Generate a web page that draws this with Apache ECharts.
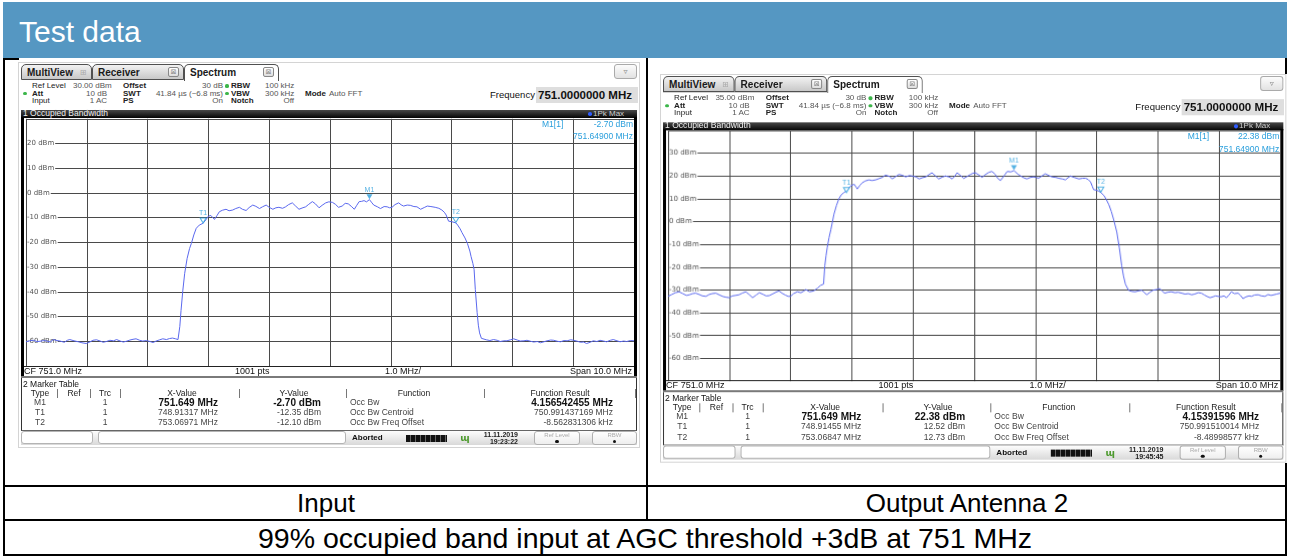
<!DOCTYPE html>
<html><head><meta charset="utf-8">
<script src="https://cdn.jsdelivr.net/npm/echarts@6/dist/echarts.min.js"></script>
<style>
html,body{margin:0;padding:0;}
body{width:1289px;height:556px;background:#fff;position:relative;overflow:hidden;font-family:"Liberation Sans",Arial,sans-serif;}
</style></head>
<body>
<script>
// ---------------- DATA ----------------
const pageTitle = 'Test data';
const cellLabels = ['Input', 'Output Antenna 2'];
const caption = '99% occupied band input at AGC threshold +3dB at 751 MHz';

const spanMHz = [746, 756];          // CF 751.0 MHz, span 10 MHz
const inputLevelRange = [-70, 30];   // ref level 30 dBm, 10 dB/div
const outputLevelRange = [-65, 35];  // ref level 35 dBm, 10 dB/div

const inputTrace = [
[746.00,-60.2],[746.06,-59.8],[746.12,-59.6],[746.18,-60.1],[746.23,-60.0],[746.29,-59.7],[746.34,-59.9],[746.40,-60.3],[746.45,-59.3],[746.51,-59.7],
[746.56,-59.9],[746.63,-60.4],[746.68,-59.6],[746.72,-59.3],[746.79,-59.8],[746.86,-60.2],[746.92,-60.6],[746.99,-60.9],[747.05,-60.3],[747.10,-59.6],
[747.16,-59.4],[747.22,-59.9],[747.27,-60.4],[747.32,-60.1],[747.38,-59.6],[747.44,-59.8],[747.49,-59.3],[747.55,-59.9],[747.60,-60.3],[747.65,-60.0],
[747.71,-59.5],[747.76,-59.2],[747.81,-59.0],[747.87,-59.6],[747.92,-59.9],[747.98,-59.7],[748.04,-60.1],[748.09,-60.5],[748.14,-59.9],[748.20,-59.4],
[748.25,-59.0],[748.31,-59.3],[748.36,-58.9],[748.41,-58.7],[748.46,-59.0],[748.50,-59.3],
[748.53,-54.0],[748.55,-47.5],[748.58,-39.3],[748.61,-32.5],[748.65,-26.5],[748.69,-22.5],[748.72,-20.4],[748.76,-17.0],[748.80,-14.3],[748.85,-13.0],
[748.91,-12.3],[748.96,-10.8],[749.00,-9.4],[749.04,-9.1],[749.07,-9.9],[749.10,-10.7],[749.14,-9.2],[749.18,-7.6],[749.23,-7.0],[749.29,-6.6],
[749.34,-7.2],[749.40,-6.9],[749.45,-6.3],[749.51,-5.8],[749.56,-6.6],[749.62,-7.1],[749.67,-5.9],[749.73,-4.9],[749.78,-5.4],[749.84,-6.3],
[749.89,-5.6],[749.95,-4.9],[750.00,-5.8],[750.06,-6.6],[750.11,-6.0],[750.16,-5.8],[750.22,-6.2],[750.27,-5.6],[750.32,-4.7],[750.38,-4.0],
[750.43,-5.2],[750.49,-6.6],[750.54,-6.1],[750.60,-5.6],[750.65,-4.6],[750.71,-3.5],[750.76,-4.4],[750.82,-6.0],[750.87,-5.0],[750.93,-4.0],
[750.98,-3.6],[751.04,-3.8],[751.09,-4.6],[751.14,-5.8],[751.20,-5.3],[751.25,-4.2],[751.30,-4.4],[751.35,-5.4],[751.40,-6.6],[751.44,-5.0],
[751.48,-3.5],[751.52,-3.4],[751.56,-3.1],[751.60,-3.6],[751.649,-2.7],[751.69,-4.0],[751.72,-4.9],[751.78,-5.6],[751.83,-6.3],[751.89,-5.5],
[751.94,-5.6],[751.98,-6.0],[752.02,-5.8],[752.07,-4.7],[752.13,-4.0],[752.17,-4.8],[752.21,-5.3],[752.27,-4.9],[752.32,-5.0],[752.38,-5.5],
[752.43,-5.6],[752.49,-6.6],[752.55,-5.9],[752.60,-5.3],[752.66,-5.5],[752.73,-5.8],[752.79,-6.2],[752.84,-6.9],[752.88,-7.8],[752.91,-8.9],
[752.95,-11.4],[753.00,-11.6],[753.03,-11.8],[753.07,-12.1],[753.10,-13.0],[753.14,-14.5],[753.17,-16.0],[753.22,-18.2],[753.26,-20.4],[753.30,-23.5],
[753.32,-25.7],[753.35,-28.5],[753.37,-31.0],[753.39,-39.0],[753.42,-48.4],[753.44,-53.5],[753.46,-56.6],[753.49,-58.8],[753.52,-59.6],
[753.57,-59.4],[753.63,-59.7],[753.69,-59.3],[753.75,-59.6],[753.80,-60.1],[753.86,-59.8],[753.91,-59.8],[753.97,-59.4],[754.02,-59.0],[754.08,-59.5],
[754.13,-59.9],[754.19,-59.8],[754.24,-59.6],[754.30,-60.0],[754.35,-60.3],[754.41,-60.1],[754.46,-60.6],[754.52,-60.2],[754.57,-59.8],[754.63,-59.5],
[754.68,-59.6],[754.74,-60.0],[754.79,-60.2],[754.85,-59.7],[754.90,-59.8],[754.96,-59.4],[755.01,-59.6],[755.07,-60.0],[755.12,-60.4],[755.17,-60.3],
[755.22,-60.9],[755.28,-60.4],[755.33,-59.8],[755.39,-60.1],[755.44,-59.6],[755.50,-59.9],[755.55,-60.2],[755.61,-59.6],[755.66,-59.3],[755.72,-59.8],
[755.77,-60.2],[755.83,-59.9],[755.88,-60.1],[755.94,-59.7],[756.00,-59.8]
];

const outputTrace = [
[746.00,-32.8],[746.06,-32.0],[746.12,-31.2],[746.18,-30.8],[746.24,-31.6],[746.30,-32.4],[746.35,-32.1],[746.40,-31.6],[746.45,-31.4],[746.51,-32.0],
[746.56,-32.6],[746.62,-32.8],[746.67,-32.0],[746.72,-31.6],[746.78,-31.4],[746.84,-32.2],[746.90,-32.9],[746.95,-33.2],[747.00,-33.4],[747.05,-32.6],
[747.10,-32.4],[747.16,-32.1],[747.21,-31.4],[747.27,-30.8],[747.32,-31.9],[747.38,-33.4],[747.44,-32.2],[747.49,-31.2],[747.55,-31.9],[747.60,-32.6],
[747.65,-32.5],[747.71,-31.7],[747.76,-31.0],[747.81,-30.4],[747.86,-31.4],[747.92,-32.3],[747.96,-32.8],[748.00,-32.8],[748.05,-31.6],[748.11,-30.8],
[748.17,-31.2],[748.21,-30.6],[748.25,-29.8],[748.31,-30.8],[748.38,-30.4],[748.44,-29.2],[748.49,-28.0],[748.54,-27.4],
[748.56,-19.4],[748.58,-15.0],[748.60,-11.4],[748.63,-7.0],[748.66,-3.4],[748.71,3.3],[748.75,7.0],[748.79,10.0],[748.83,11.8],[748.87,12.7],
[748.91,13.4],[748.95,14.6],[748.98,15.6],[749.01,16.3],[749.04,16.4],[749.07,15.2],[749.09,14.3],[749.13,15.8],[749.17,17.0],[749.22,17.8],
[749.28,18.3],[749.33,18.0],[749.39,18.3],[749.45,18.9],[749.50,19.4],[749.55,20.4],[749.58,21.0],[749.62,19.8],[749.66,18.7],[749.72,19.8],
[749.77,20.7],[749.83,20.3],[749.88,19.6],[749.94,20.2],[749.99,20.0],[750.05,19.6],[750.10,18.7],[750.16,19.3],[750.21,19.6],[750.26,20.6],
[750.31,21.4],[750.37,20.0],[750.42,18.7],[750.48,19.5],[750.53,20.0],[750.59,19.6],[750.64,18.7],[750.68,19.8],[750.72,21.4],[750.78,20.2],
[750.83,18.9],[750.89,19.9],[750.94,20.7],[750.98,21.2],[751.02,21.4],[751.08,20.4],[751.13,19.4],[751.18,20.6],[751.24,21.6],[751.29,22.0],
[751.34,20.8],[751.39,18.8],[751.43,18.0],[751.49,20.2],[751.54,22.0],[751.60,21.8],[751.649,22.38],[751.71,20.9],[751.76,20.0],[751.81,19.2],
[751.86,18.7],[751.92,19.4],[751.97,19.6],[752.01,19.4],[752.05,19.0],[752.10,19.9],[752.16,21.0],[752.22,20.2],[752.27,19.6],[752.33,19.4],
[752.38,19.0],[752.44,18.7],[752.49,18.3],[752.53,19.2],[752.57,20.0],[752.64,19.3],[752.71,18.7],[752.77,19.0],[752.82,19.0],[752.86,18.5],
[752.90,17.4],[752.93,15.4],[752.95,14.0],[752.99,13.8],[753.03,13.4],[753.07,12.73],[753.12,11.4],[753.16,9.6],[753.20,7.4],[753.24,4.4],
[753.28,0.7],[753.33,-4.6],[753.37,-11.4],[753.41,-19.4],[753.44,-24.0],[753.47,-27.4],[753.52,-30.1],
[753.57,-30.6],[753.63,-30.8],[753.68,-30.4],[753.74,-30.1],[753.78,-31.2],[753.82,-32.1],[753.87,-31.0],[753.92,-30.1],[753.98,-29.8],[754.03,-29.4],
[754.07,-30.4],[754.11,-31.4],[754.16,-31.0],[754.22,-30.8],[754.28,-31.2],[754.33,-31.0],[754.39,-31.4],[754.44,-31.8],[754.50,-31.6],[754.55,-32.1],
[754.60,-31.8],[754.66,-31.2],[754.71,-31.4],[754.76,-32.2],[754.80,-32.8],[754.85,-33.4],[754.90,-33.0],[754.94,-32.6],[754.98,-32.8],[755.03,-33.0],
[755.08,-32.6],[755.12,-33.4],[755.16,-32.2],[755.20,-30.8],[755.25,-31.6],[755.31,-31.4],[755.35,-32.4],[755.39,-33.8],[755.44,-33.0],[755.49,-32.6],
[755.53,-32.8],[755.58,-32.2],[755.64,-32.1],[755.69,-32.6],[755.75,-32.8],[755.80,-32.0],[755.85,-32.4],[755.88,-32.5],[755.94,-31.8],[756.00,-31.4]
];

const inputMarkers  = [['M1',751.649,-2.70],['T1',748.91317,-12.35],['T2',753.06971,-12.10]];
const outputMarkers = [['M1',751.649,22.38],['T1',748.91455,12.52],['T2',753.06847,12.73]];

const tableHeader = ['Type','Ref','Trc','X-Value','Y-Value','Function','Function Result'];
const inputTable = [
  ['M1','1','751.649 MHz','-2.70 dBm','Occ Bw','4.156542455 MHz'],
  ['T1','1','748.91317 MHz','-12.35 dBm','Occ Bw Centroid','750.991437169 MHz'],
  ['T2','1','753.06971 MHz','-12.10 dBm','Occ Bw Freq Offset','-8.562831306 kHz']];
const outputTable = [
  ['M1','1','751.649 MHz','22.38 dBm','Occ Bw','4.15391596 MHz'],
  ['T1','1','748.91455 MHz','12.52 dBm','Occ Bw Centroid','750.991510014 MHz'],
  ['T2','1','753.06847 MHz','12.73 dBm','Occ Bw Freq Offset','-8.48998577 kHz']];

const inputHead  = ['30.00 dBm', '-2.70 dBm', '751.64900 MHz', '11.11.2019', '19:23:22'];
const outputHead = ['35.00 dBm', '22.38 dBm', '751.64900 MHz', '11.11.2019', '19:45:45'];

// ---------------- HELPERS ----------------
const SANS = '"Liberation Sans",Arial,sans-serif';
function el(parent, css, text){
  const d = document.createElement('div');
  d.style.cssText = 'position:absolute;box-sizing:border-box;' + css;
  if (text != null) d.textContent = text;
  parent.appendChild(d); return d;
}
function txt(p, x, y, s, o){
  o = o || {};
  const size = o.size || 8, lh = Math.round(size + 4);
  let css = `top:${y - lh/2}px;height:${lh}px;line-height:${lh}px;font-size:${size}px;white-space:nowrap;` +
            `color:${o.color || '#222'};font-weight:${o.bold ? 'bold' : 'normal'};font-family:${o.font || SANS};`;
  if (o.align === 'r') css += `left:${x-600}px;width:600px;text-align:right;`;
  else if (o.align === 'c') css += `left:${x-700}px;width:1400px;text-align:center;`;
  else css += `left:${x}px;`;
  return el(p, css, s);
}
function tab(P, x0, x1, label, active, icon){
  el(P, `left:${x0}px;top:2px;width:${x1-x0}px;height:${active?17:16}px;border:1px solid #505050;` +
        (active ? 'border-bottom:none;background:#fff;' : 'background:linear-gradient(#f2f2f2,#c8c8c8);') +
        'border-radius:5px 5px 0 0;');
  txt(P, x0+6, 11, label, {bold:true, size:10, color:'#1a1a1a'});
  if (icon === 'close') {
    el(P, `left:${x1-16}px;top:5px;width:11px;height:10px;border:1px solid #888;border-radius:2px;background:linear-gradient(#fff,#ddd);`);
    txt(P, x1-10.5, 10, '⊠', {align:'c', size:7, color:'#888', font:'"DejaVu Sans",sans-serif'});
  } else {
    txt(P, x1-9, 11, '⊞', {align:'c', size:8, color:'#aaa', font:'"DejaVu Sans",sans-serif'});
  }
}
function dot(P, x, y, c, r){ el(P, `left:${x-r}px;top:${y-r}px;width:${2*r}px;height:${2*r}px;border-radius:50%;background:${c};`); }

const CY = '#2a9fdc';
const TRACE = '#5a68ee';

// ---------------- PANEL ----------------
function buildPanel(px, py, scale, head, levels, trace, markers, table){
  const P = el(document.body, `left:${px}px;top:${py}px;width:622px;height:386px;transform:scale(${scale});transform-origin:0 0;background:#fff;`);
  el(P, 'left:0;top:0;width:622px;height:386px;border:1px solid #d4d4d4;');
  // tabs
  tab(P, 3, 74, 'MultiView', false, 'grid');
  tab(P, 74, 166, 'Receiver', false, 'close');
  tab(P, 166, 261, 'Spectrum', true, 'close');
  el(P, 'left:596px;top:2px;width:23px;height:15px;border:1px solid #aaa;border-radius:3px;background:linear-gradient(#fcfcfc,#e2e2e2);');
  txt(P, 607.5, 9.5, '▿', {align:'c', size:8, color:'#8a8a8a', font:'"DejaVu Sans",sans-serif'});
  // settings
  const r1 = 24, r2 = 31.5, r3 = 39;
  txt(P, 14, r1, 'Ref Level', {color:'#222'}); txt(P, 55, r1, head[0], {color:'#555'});
  txt(P, 105, r1, 'Offset', {bold:true}); txt(P, 205, r1, '30 dB', {align:'r', color:'#555'});
  dot(P, 209, r1, '#3cb64a', 1.6); txt(P, 213, r1, 'RBW', {bold:true}); txt(P, 247, r1, '100 kHz', {color:'#555'});
  dot(P, 7, r2, '#3cb64a', 1.6); txt(P, 14, r2, 'Att', {bold:true}); txt(P, 89, r2, '10 dB', {align:'r', color:'#555'});
  txt(P, 105, r2, 'SWT', {bold:true}); txt(P, 205, r2, '41.84 µs (~6.8 ms)', {align:'r', color:'#555'});
  dot(P, 209, r2, '#3cb64a', 1.6); txt(P, 213, r2, 'VBW', {bold:true}); txt(P, 247, r2, '300 kHz', {color:'#555'});
  txt(P, 287, r2, 'Mode', {bold:true}); txt(P, 311, r2, 'Auto FFT', {color:'#555'});
  txt(P, 14, r3, 'Input', {color:'#222'}); txt(P, 89, r3, '1 AC', {align:'r', color:'#555'});
  txt(P, 105, r3, 'PS', {bold:true}); txt(P, 205, r3, 'On', {align:'r', color:'#555'});
  txt(P, 213, r3, 'Notch', {bold:true}); txt(P, 276, r3, 'Off', {align:'r', color:'#555'});
  txt(P, 472, 33, 'Frequency', {size:9.5, color:'#111'});
  el(P, 'left:518px;top:25px;width:102px;height:16px;background:#dedede;');
  txt(P, 520, 33, '751.0000000 MHz', {size:11.5, bold:true, color:'#111'});
  // dark title bar
  el(P, 'left:3px;top:47.5px;width:616px;height:8.5px;background:linear-gradient(#484848,#050505);');
  txt(P, 5, 51.5, '1 Occupied Bandwidth', {size:8.5, color:'#f0f0f0'});
  dot(P, 572, 51.8, '#2f5cff', 1.8); txt(P, 575, 51.5, '1Pk Max', {size:8, color:'#cfcfcf'});
  // frame
  el(P, 'left:3px;top:55px;width:3px;height:260px;background:#000;');
  el(P, 'left:616px;top:55px;width:3px;height:260px;background:#000;');
  // chart
  const cdiv = el(P, 'left:6px;top:56px;width:610px;height:249px;');
  const k = 247.2 / (levels[1] - levels[0]);
  const axMin = Math.floor(levels[0] / 10) * 10, axMax = Math.ceil(levels[1] / 10) * 10;
  const chart = echarts.init(cdiv, null, {renderer:'canvas'});
  chart.setOption({
    animation:false,
    grid:{left:0, width:610, top:0.8 - (axMax - levels[1]) * k, height:(axMax - axMin) * k},
    xAxis:{type:'value', min:spanMHz[0], max:spanMHz[1], interval:1,
      axisLine:{show:false}, axisTick:{show:false}, axisLabel:{show:false},
      splitLine:{show:true, lineStyle:{color:'#4a4a4a', width:1}}},
    yAxis:{type:'value', min:axMin, max:axMax, interval:10,
      axisLine:{show:false}, axisTick:{show:false},
      splitLine:{show:true, lineStyle:{color:'#4a4a4a', width:1}},
      axisLabel:{inside:true, margin:1, fontSize:7, color:'#555', fontFamily:'"DejaVu Sans",sans-serif',
        backgroundColor:'#fff', padding:[0,1,0,0],
        formatter:v => (v > levels[0] && v < levels[1]) ? v + ' dBm' : ''}},
    series:[
      {type:'line', data:trace, symbol:'none', lineStyle:{color:TRACE, width:1}, z:3, silent:true},
      {type:'scatter', z:4, silent:true,
       label:{show:true, position:'top', distance:1, formatter:'{b}', fontSize:7, color:CY, fontFamily:SANS},
       data:markers.map(m => ({name:m[0], value:[m[1], m[2]], symbol:'triangle', symbolRotate:180,
         symbolSize:[6,5], symbolOffset:[0,-3],
         itemStyle: m[0] === 'M1' ? {color:CY} : {color:'#fff', borderColor:CY, borderWidth:1}}))}
    ]
  });
  // marker readout
  txt(P, 524, 62.5, 'M1[1]', {size:8.5, color:CY});
  txt(P, 615, 62.5, head[1], {size:8.5, color:CY, align:'r'});
  txt(P, 615, 74, head[2], {size:8.5, color:CY, align:'r'});
  // plot bottom & CF row
  el(P, 'left:6px;top:304px;width:610px;height:1px;background:#222;');
  txt(P, 6, 309.8, 'CF 751.0 MHz', {size:9, color:'#111'});
  txt(P, 217, 309.8, '1001 pts', {size:9, color:'#111'});
  txt(P, 367, 309.8, '1.0 MHz/', {size:9, color:'#111'});
  txt(P, 614, 309.8, 'Span 10.0 MHz', {size:9, color:'#111', align:'r'});
  el(P, 'left:3px;top:314px;width:616px;height:2px;background:#7a7a7a;');
  // marker table
  el(P, 'left:3px;top:316px;width:616px;height:53px;border-left:1.5px solid #333;border-right:1.5px solid #333;border-bottom:1px solid #666;');
  txt(P, 5, 322, '2 Marker Table', {size:8.5, color:'#111'});
  const hc = [22, 56, 87, 164, 276, 396, 542];
  tableHeader.forEach((h, i) => txt(P, hc[i], 331.3, h, {size:8.5, align:'c', color:'#222'}));
  [39, 72, 102, 221, 328, 466, 617].forEach(x => el(P, `left:${x}px;top:327px;width:1px;height:9px;background:#777;`));
  const ry = [340.7, 350.5, 360];
  table.forEach((r, i) => {
    const b = i === 0, sz = b ? 10 : 8.5, col = b ? '#111' : '#444';
    txt(P, 22, ry[i], r[0], {size:8.5, align:'c', color:'#444'});
    txt(P, 87, ry[i], r[1], {size:8.5, align:'c', color:'#444'});
    txt(P, 200, ry[i], r[2], {size:sz, bold:b, align:'r', color:col});
    txt(P, 303, ry[i], r[3], {size:sz, bold:b, align:'r', color:col});
    txt(P, 332, ry[i], r[4], {size:8.5, color:'#444'});
    txt(P, 595, ry[i], r[5], {size:sz, bold:b, align:'r', color:col});
  });
  // status bar
  el(P, 'left:3px;top:369px;width:616px;height:14px;background:linear-gradient(#fdfdfd,#d9d9d9);');
  el(P, 'left:3px;top:369px;width:72px;height:13px;border:1px solid #b4b4b4;border-radius:3px;background:#fff;');
  el(P, 'left:80px;top:369px;width:248px;height:13px;border:1px solid #b4b4b4;border-radius:3px;background:#fff;');
  txt(P, 334, 376, 'Aborted', {size:8, bold:true, color:'#111'});
  el(P, 'left:388px;top:372.5px;width:41px;height:7px;background:repeating-linear-gradient(90deg,#111 0 4px,#666 4px 5px);');
  txt(P, 447, 376, 'ɰ', {size:9, bold:true, align:'c', color:'#4d9a2e', font:'"DejaVu Sans",sans-serif'});
  txt(P, 500, 372.3, head[3], {size:7, bold:true, align:'r', color:'#222'});
  txt(P, 500, 379, head[4], {size:7, bold:true, align:'r', color:'#222'});
  el(P, 'left:516px;top:369px;width:46px;height:14px;border:1px solid #b0b0b0;border-radius:3px;background:linear-gradient(#fff,#eee);');
  txt(P, 539, 373, 'Ref Level', {size:6, align:'c', color:'#aaa'});
  dot(P, 539, 379.5, '#111', 1.6);
  el(P, 'left:574px;top:369px;width:45px;height:14px;border:1px solid #b0b0b0;border-radius:3px;background:linear-gradient(#fff,#eee);');
  txt(P, 596.5, 373, 'RBW', {size:6, align:'c', color:'#aaa'});
  dot(P, 596.5, 379.5, '#111', 1.6);
}

// ---------------- PAGE ----------------
const B = document.body;
el(B, 'left:3px;top:2px;width:1284px;height:56px;background:#5597c2;');
txt(B, 19, 32, pageTitle, {size:30, color:'#fff'});
el(B, 'left:3px;top:58px;width:2px;height:498px;background:#000;');
el(B, 'left:1285px;top:58px;width:2px;height:498px;background:#000;');
el(B, 'left:3px;top:58px;width:16px;height:2px;background:#000;');
el(B, 'left:646px;top:58px;width:2px;height:462px;background:#000;');
el(B, 'left:3px;top:485px;width:1284px;height:2px;background:#000;');
el(B, 'left:3px;top:519px;width:1284px;height:2px;background:#000;');
el(B, 'left:3px;top:554px;width:1284px;height:2px;background:#000;');

buildPanel(18, 62, 1, inputHead, inputLevelRange, inputTrace, inputMarkers, inputTable);
buildPanel(659.5, 73.8, 1.007, outputHead, outputLevelRange, outputTrace, outputMarkers, outputTable);

txt(B, 326, 503, cellLabels[0], {size:26, align:'c', color:'#000'});
txt(B, 967, 503, cellLabels[1], {size:26, align:'c', color:'#000'});
txt(B, 645, 538, caption, {size:28.5, align:'c', color:'#000'});
</script>
</body></html>
